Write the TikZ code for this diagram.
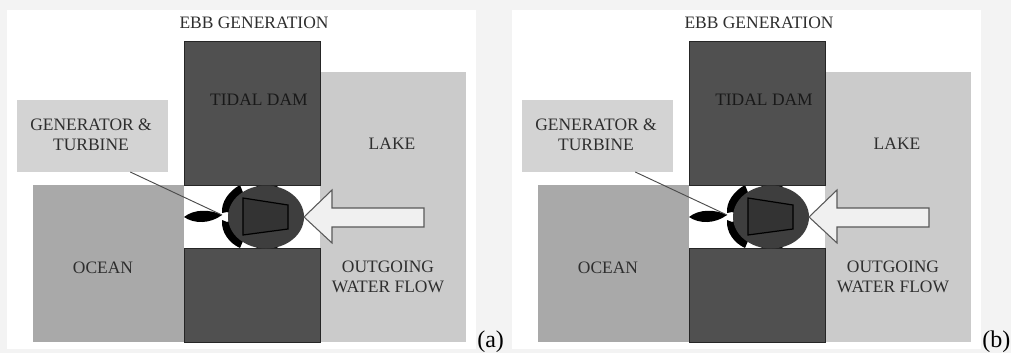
\documentclass[tikz,border=0pt]{standalone}
\usepackage{fontspec}
\setmainfont{Liberation Serif}
\usetikzlibrary{calc}
\definecolor{pagebg}{HTML}{F3F3F3}
\definecolor{damc}{HTML}{505050}
\definecolor{lakec}{HTML}{CBCBCB}
\definecolor{oceanc}{HTML}{A9A9A9}
\definecolor{genc}{HTML}{D3D3D3}
\definecolor{hubc}{HTML}{3E3E3E}
\definecolor{coref}{HTML}{333333}
\definecolor{arrowc}{HTML}{F0F0F0}
\definecolor{txtc}{HTML}{2E2E2E}
\tikzset{
  x=0.75pt,y=-0.75pt,
  blk/.style={inner sep=0pt,outer sep=0pt,anchor=north west},
  lbl/.style={font=\fontsize{13.1pt}{15pt}\selectfont,text=txtc,align=center,inner sep=0pt},
  captxt/.style={font=\fontsize{18pt}{20pt}\selectfont,text=black,inner sep=0pt,anchor=base west},
  pics/ebbpanel/.style={code={
    \node[blk,fill=white,minimum width=352pt,minimum height=254.25pt] (sheet) at (7,10) {};
    \node[blk,fill=lakec,minimum width=109.5pt,minimum height=202.5pt] (lake) at (320,72) {};
    \node[blk,fill=oceanc,minimum width=113.25pt,minimum height=117.75pt] (ocean) at (33,185) {};
    \node[blk,fill=white,minimum width=102pt,minimum height=47.25pt] (gap) at (184,185) {};
    \node[blk,fill=genc,minimum width=113.25pt,minimum height=54pt] (gen) at (17,100) {};
    % blades
    \fill[black] (184,217) .. controls (194,209) and (210,209) .. (222,215) .. controls (210,224) and (194,224) .. (184,217) -- cycle;
    \fill[black] (222,213) .. controls (221,202) and (229,191) .. (240,185) -- (246,200) -- (232,214) -- (227,212) -- cycle;
    \fill[black] (222,220) .. controls (221,232) and (229,243) .. (240,248) -- (246,234) -- (232,220) -- (227,222) -- cycle;
    \fill[black] (267,186) ellipse [x radius=11,y radius=2];
    \fill[black] (267,248) ellipse [x radius=11,y radius=2];
    \node[blk,draw=black!85,fill=damc,line width=.7pt,minimum width=102pt,minimum height=108pt] (damtop) at (184,41) {};
    \node[blk,draw=black!85,fill=damc,line width=.7pt,minimum width=102pt,minimum height=70.5pt] (dambot) at (184,248) {};
    \fill[hubc] (266,217) ellipse [x radius=38,y radius=31.5];
    \draw[black,fill=coref,line width=.9pt] (243,198) -- (288,205) -- (288,229) -- (243,235) -- cycle;
    \draw[black!65,fill=arrowc,line width=.8pt] (304,217) -- (332,190) -- (332,208) -- (424,208) -- (424,227) -- (332,227) -- (332,243) -- cycle;
    \coordinate (hub) at (222,215);
    \coordinate (leadstart) at ($(gen.south west)!0.75!(gen.south east)$);
    \draw[black!70,line width=.7pt] (leadstart) -- (hub);
    \node[lbl] (title) at (254,23) {EBB GENERATION};
    \node[lbl,text=black!90] (damlabel) at (259,99.5) {TIDAL DAM};
    \node[lbl] (genlabel) at (91,135) {GENERATOR \&\\TURBINE};
    \node[lbl] (lakelabel) at (392,144) {LAKE};
    \node[lbl] (oceanlabel) at (103,268) {OCEAN};
    \node[lbl] (flowlabel) at (388,277) {OUTGOING\\WATER FLOW};
  }}
}
\begin{document}
\begin{tikzpicture}
\useasboundingbox (0,0) rectangle (1011,353);
\fill[pagebg] (0,0) rectangle (1011,353);
\pic (a) at (0,0) {ebbpanel};
\pic (b) at (505,0) {ebbpanel};
\node[captxt] (capa) at (477,347) {(a)};
\node[captxt] (capb) at (982,347) {(b)};
\end{tikzpicture}
\end{document}
